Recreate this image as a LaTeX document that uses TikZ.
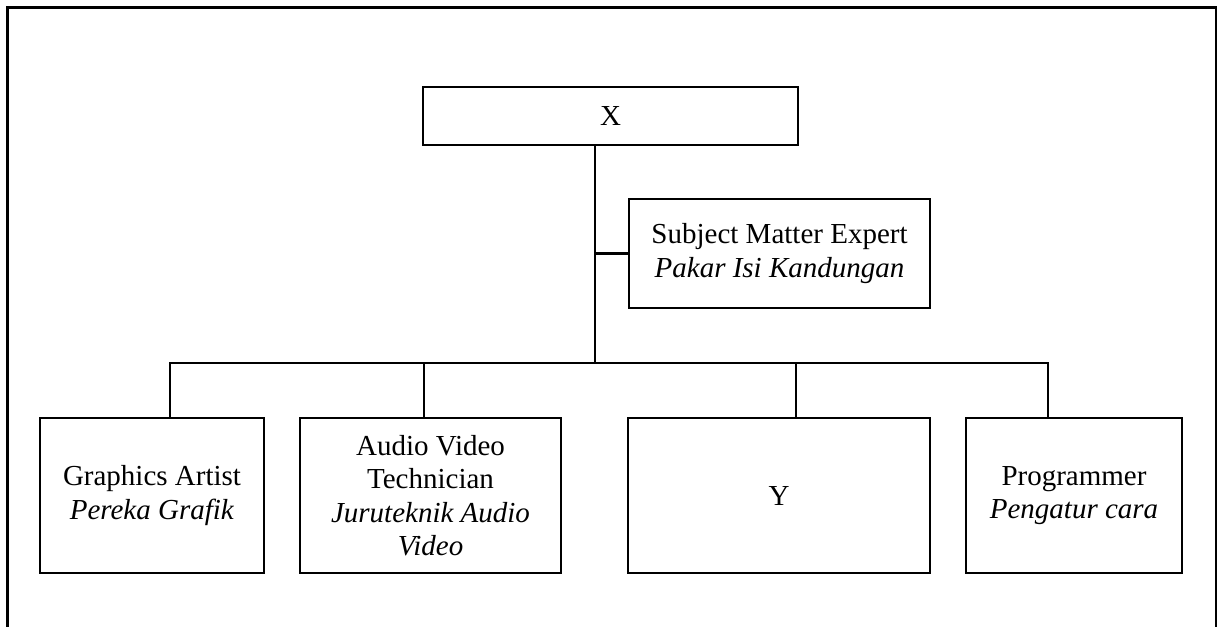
\documentclass[tikz,border=0pt]{standalone}
\usepackage{fontspec}
\setmainfont{Liberation Serif}
\tikzset{
	post/.style={draw=black, very thick, align=center, inner sep=2pt, font=\fontsize{14.5}{16.7}\selectfont},
	link/.style={black, very thick},
}

\begin{document}
\begin{tikzpicture}[x=0.5pt, y=-0.5pt]
		\useasboundingbox (0,0) rectangle (1218,626);
		\draw[black, very thick] (7.5,632) -- (7.5,7.5) -- (1216,7.5) -- (1216,632);
		
		\node[post, minimum width=187.5pt, minimum height=29pt] (x) at (610.5,116) {X};
		\node[post, minimum width=150.5pt, minimum height=54.5pt] (sme) at (779.5,253.5) {Subject Matter Expert\\ \textit{Pakar Isi Kandungan}};
		\node[post, minimum width=112pt, minimum height=77.5pt] (ga) at (152,495.5) {Graphics Artist\\ \textit{Pereka Grafik}};
		\node[post, minimum width=130.5pt, minimum height=77.5pt] (avt) at (430.5,495.5) {Audio Video\\ Technician\\ \textit{Juruteknik Audio}\\ \textit{Video}};
		\node[post, minimum width=151pt, minimum height=77.5pt] (y) at (779,495.5) {Y};
		\node[post, minimum width=108pt, minimum height=77.5pt] (prog) at (1074,495.5) {Programmer\\ \textit{Pengatur cara}};

		\coordinate (hub) at (595,363);
		\coordinate (b1) at (170,363);
		\coordinate (b2) at (424,363);
		\coordinate (b3) at (796,363);
		\coordinate (b4) at (1048,363);

		\draw[link] (hub |- x.south) -- (hub);
		\draw[link] (hub |- sme.west) -- (sme.west);
		\draw[link] (b1 |- ga.north) -- (b1) -- (b4) -- (b4 |- prog.north);
		\draw[link] (b2) -- (b2 |- avt.north);
		\draw[link] (b3) -- (b3 |- y.north);

	\end{tikzpicture}
\end{document}
